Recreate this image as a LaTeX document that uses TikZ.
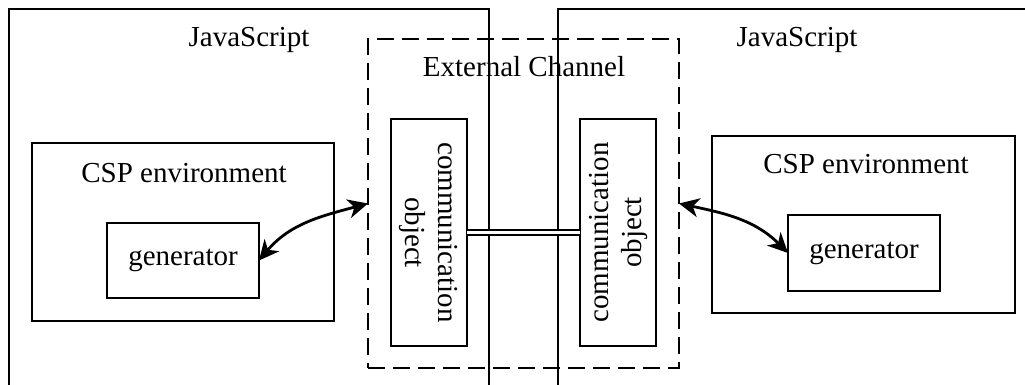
\documentclass[tikz,border=0pt]{standalone}
\usepackage{fontspec}
\setmainfont{Liberation Serif}
\usetikzlibrary{arrows.meta}
\begin{document}
\begin{tikzpicture}[x=1pt,y=-1pt,
  frame/.style={draw, line width=2.7pt, inner sep=0pt, outer sep=0pt},
  dashframe/.style={frame, dash pattern=on 17pt off 8pt},
  label/.style={inner sep=0pt, anchor=base, font=\fontsize{29}{33}\selectfont},
  vlabel/.style={inner sep=0pt, align=center, font=\fontsize{29}{33}\selectfont},
  link/.style={line width=2.8pt, {Stealth[length=20pt,width=19pt,inset=6pt]}-{Stealth[length=20pt,width=19pt,inset=6pt]}},
  every node/.style={font=\fontsize{29}{33}\selectfont}]
\useasboundingbox (0,0) rectangle (1025,385);
\clip (0,0) rectangle (1025,385);

% two JavaScript hosts, open at the bottom
\node[frame, minimum width=480pt, minimum height=391pt] (js1) at (249,204.65) {};
\node[frame, minimum width=478pt, minimum height=391pt] (js2) at (797,204.5) {};
\node[label] (js1t) at (249,47) {JavaScript};
\node[label] (js2t) at (797,47) {JavaScript};

% external channel
\node[dashframe, minimum width=311pt, minimum height=329pt] (ext) at (523.5,203.5) {};
\node[label] (extt) at (524,77) {External Channel};

% CSP environments
\node[frame, minimum width=302pt, minimum height=178pt] (csp1) at (183,232) {};
\node[label] (csp1t) at (184,182) {CSP environment};
\node[frame, minimum width=152pt, minimum height=75pt] (gen1) at (183,260.5) {generator};

\node[frame, minimum width=303pt, minimum height=177pt] (csp2) at (863.5,224.5) {};
\node[label] (csp2t) at (866,173) {CSP environment};
\node[frame, minimum width=152pt, minimum height=76pt] (gen2) at (864,253) {generator};

% communication objects
\node[frame, minimum width=76pt, minimum height=227pt] (com1) at (429,232.5) {};
\node[vlabel, rotate=-90] (com1t) at (com1.center) {communication\\object};
\node[frame, minimum width=76pt, minimum height=227pt] (com2) at (618,232.5) {};
\node[vlabel, rotate=90] (com2t) at (com2.center) {communication\\object};

% connections
\draw[line width=2pt, double, double distance=2.2pt] (com1.east) -- (com2.west);
\draw[link] (gen1.east) to[out=50, in=195] (ext.west);
\draw[link] (ext.east) to[out=-12, in=135] (gen2.west);
\end{tikzpicture}
\end{document}
